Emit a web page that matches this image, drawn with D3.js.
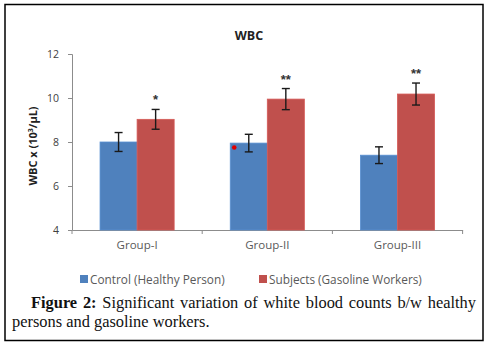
<!DOCTYPE html>
<html><head><meta charset="utf-8">
<script src="https://cdn.jsdelivr.net/npm/d3@7"></script>
<style>
html,body{margin:0;padding:0;background:#fff;}
#wrap{position:relative;width:488px;height:346px;}
.cap{position:absolute;font-family:"Liberation Serif","Times New Roman",serif;font-size:16.4px;line-height:19px;color:#111;white-space:nowrap;}
#cap1{left:31px;top:293px;width:445px;text-align:justify;text-align-last:justify;}
#cap2{left:12px;top:311.5px;}
</style></head>
<body><div id="wrap"><svg id="chart" width="488" height="346"></svg>
<div class="cap" id="cap1"><b>Figure 2:</b> Significant variation of white blood counts b/w healthy</div>
<div class="cap" id="cap2">persons and gasoline workers.</div></div>
<script>
const groups = ["Group-I","Group-II","Group-III"];
const series = ["Control (Healthy Person)","Subjects (Gasoline Workers)"];
const control = [8.0, 7.95, 7.4];
const subjects = [9.03, 9.95, 10.18];
const controlErr = [0.43, 0.4, 0.38];
const subjectsErr = [0.45, 0.48, 0.5];
const significance = ["*","**","**"];
const yTicks = [4,6,8,10,12];
const colors = ["#4F81BD","#C0504D"];

const svg = d3.select("#chart");
svg.append("rect").attr("x",5).attr("y",4.5).attr("width",478).attr("height",336)
  .attr("fill","none").attr("stroke","#000").attr("stroke-width",1.5);

const y = d3.scaleLinear().domain([4,12]).range([230,54]);
const x = d3.scaleBand().domain(groups).range([72,462.6]);
const xs = d3.scaleBand().domain(series).range([0,x.bandwidth()]).paddingOuter(0.757);
const font = "Open Sans, Liberation Sans, sans-serif";

svg.append("text").attr("x",249).attr("y",40).attr("text-anchor","middle")
  .attr("font-family",font).attr("font-weight","bold")
  .attr("font-size",12.5).attr("fill","#222").text("WBC");

const gy = svg.append("g").attr("transform","translate(72,0)")
  .call(d3.axisLeft(y).tickValues(yTicks).tickSize(4).tickPadding(9));
gy.selectAll("path,line").attr("stroke","#8c8c8c");
gy.selectAll("text").attr("font-family",font).attr("font-size",10.5).attr("fill","#404040");

const gx = svg.append("g").attr("transform","translate(0,230)")
  .call(d3.axisBottom(x).tickSize(0).tickPadding(11));
gx.select("path").attr("stroke","#8c8c8c");
gx.selectAll("text").attr("font-family",font).attr("font-size",11.5).attr("fill","#595959");
const bounds = groups.map(g=>x(g)).concat([x(groups[groups.length-1])+x.bandwidth()]);
svg.append("g").selectAll("line").data(bounds).join("line")
  .attr("x1",d=>d).attr("x2",d=>d).attr("y1",230).attr("y2",234).attr("stroke","#8c8c8c");

svg.append("text").attr("transform","translate(37,146) rotate(-90)").attr("text-anchor","middle")
  .attr("font-family",font).attr("font-weight","bold")
  .attr("font-size",11).attr("fill","#222")
  .html('WBC x (10<tspan baseline-shift="super" font-size="7">3</tspan>/µL)');

const data = [];
groups.forEach((g,i)=>{
  data.push({g, s:series[0], v:control[i], e:controlErr[i], c:colors[0]});
  data.push({g, s:series[1], v:subjects[i], e:subjectsErr[i], c:colors[1]});
});

svg.append("g").selectAll("rect").data(data).join("rect")
  .attr("x",d=>x(d.g)+xs(d.s)).attr("width",xs.bandwidth())
  .attr("y",d=>y(d.v)).attr("height",d=>y(4)-y(d.v))
  .attr("fill",d=>d.c).attr("stroke",d=>d3.color(d.c).brighter(0.3)).attr("stroke-width",0.8);

const eb = svg.append("g").attr("stroke","#1a1a1a").attr("stroke-width",1.4);
data.forEach(d=>{
  const cx = x(d.g)+xs(d.s)+xs.bandwidth()/2;
  eb.append("line").attr("x1",cx).attr("x2",cx).attr("y1",y(d.v+d.e)).attr("y2",y(d.v-d.e));
  [d.v+d.e,d.v-d.e].forEach(v=>eb.append("line").attr("x1",cx-4).attr("x2",cx+4).attr("y1",y(v)).attr("y2",y(v)));
});

svg.append("g").selectAll("text").data(groups).join("text")
  .attr("x",g=>x(g)+xs(series[1])+xs.bandwidth()/2)
  .attr("y",(g,i)=>y(subjects[i]+subjectsErr[i])-5)
  .attr("text-anchor","middle").attr("font-family","Liberation Sans, sans-serif")
  .attr("font-weight","bold").attr("font-size",13).attr("fill","#333")
  .text((g,i)=>significance[i]);

svg.append("circle").attr("cx",x(groups[1])+xs(series[0])+4).attr("cy",y(7.75)).attr("r",2.3).attr("fill","#e00000");

const leg = svg.append("g").attr("font-family",font).attr("font-size",11.8).attr("fill","#595959");
const legX = [80,259];
series.forEach((s,i)=>{
  leg.append("rect").attr("x",legX[i]).attr("y",275).attr("width",8).attr("height",8).attr("fill",colors[i]);
  leg.append("text").attr("x",legX[i]+10).attr("y",283.5).text(s);
});
</script></body></html>
